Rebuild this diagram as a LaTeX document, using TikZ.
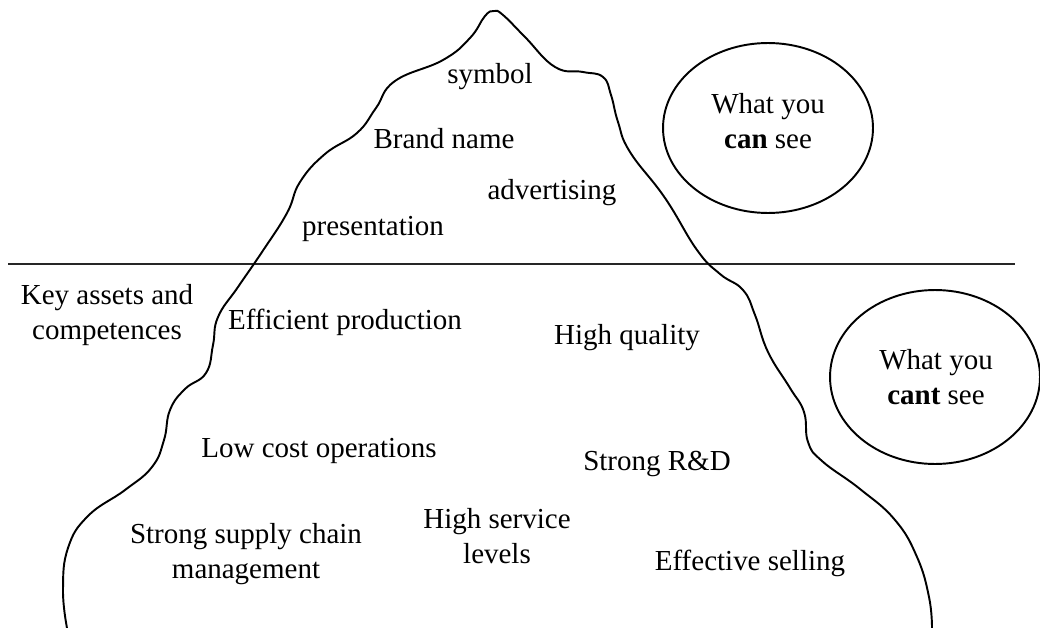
\documentclass[tikz,border=0pt]{standalone}
\usepackage{fontspec}
\setmainfont{Liberation Serif}
\usetikzlibrary{shapes.geometric}
\begin{document}
\begin{tikzpicture}[x=0.02cm,y=-0.02cm,
  txt/.style={align=center,inner sep=0pt,font=\fontsize{16.5}{19.5}\selectfont},
  bubble/.style={draw,ellipse,line width=1.1pt,inner sep=0pt,minimum width=4.2cm,minimum height=3.4cm},
  berg/.style={line width=1.1pt,line join=round},
  water/.style={line width=1pt,draw=black!85}]
\useasboundingbox (0,0) rectangle (1040,628);
% water line
\coordinate (wl) at (8,264);
\coordinate (wr) at (1015,264);
\draw[water] (wl) -- (wr);
% iceberg
\draw[berg] plot[smooth,tension=0.75] coordinates {
(67,628) (63,590) (68,548) (88,516) (125,490) (152,467)
(164,440) (170,410) (185,389) (206,373) (213,345) (218,317)
(238,287) (262,252) (287,213) (300,182) (325,154)
(357,133) (376,108) (395,81) (443,60) (470,38) (485,16)
(494,11) (503,15) (525,37) (555,67) (583,72) (603,77) (611,95)
(618,122) (630,152) (665,198) (697,250) (720,274)
(743,290) (755,315) (768,352) (790,388) (804,412)
(808,442) (822,461) (860,489) (895,520) (917,557) (929,597) (932,628)};
% bubbles
\node[bubble] (can) at (768,128) {};
\node[txt] (cant) at (768,121) {What you\\\textbf{can} see};
\node[bubble,minimum height=3.48cm] (cnt) at (935,377) {};
\node[txt] (cntt) at (936,377) {What you\\\textbf{cant} see};
% above water
\node[txt] (sym) at (490,77) {symbol};
\node[txt] (brand) at (444,139) {Brand name};
\node[txt] (adv) at (552,193) {advertising};
\node[txt] (pres) at (373,229) {presentation};
% below water
\node[txt] (key) at (107,315) {Key assets and\\competences};
\node[txt] (eff) at (345,322) {Efficient production};
\node[txt] (hq) at (627,338) {High quality};
\node[txt] (low) at (319,451) {Low cost operations};
\node[txt] (rd) at (657,464) {Strong R\&D};
\node[txt] (sup) at (246,554) {Strong supply chain\\management};
\node[txt] (hsl) at (497,536) {High service\\levels};
\node[txt] (sell) at (750,563) {Effective selling};
\end{tikzpicture}
\end{document}
